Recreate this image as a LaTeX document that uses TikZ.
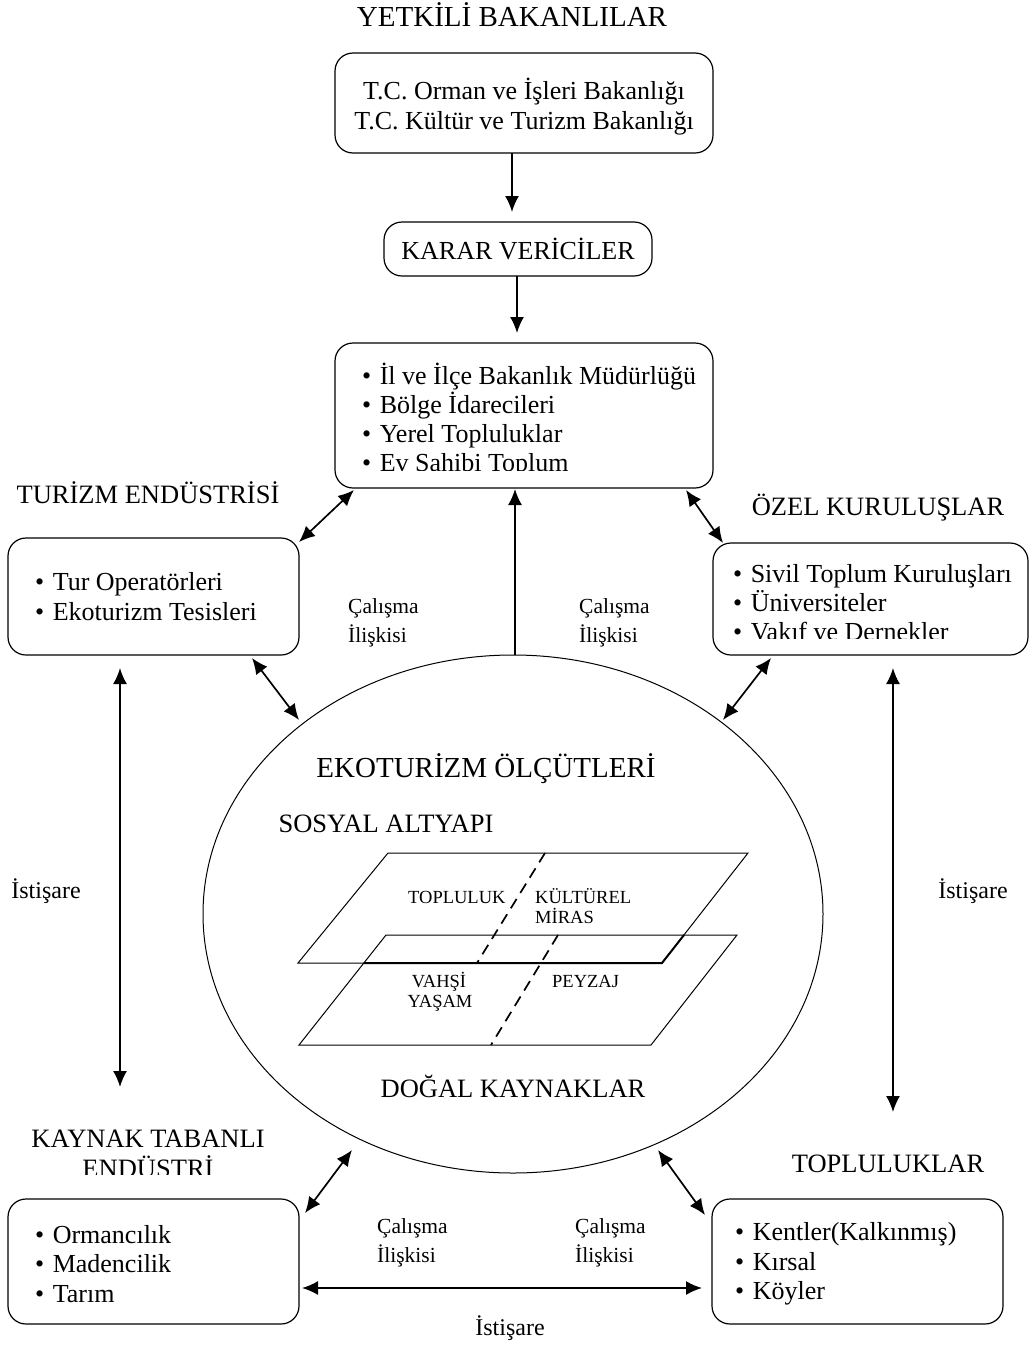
\documentclass[tikz,border=0pt]{standalone}
\usepackage{fontspec}
\setmainfont{Liberation Serif}
\usetikzlibrary{arrows.meta,calc,shapes.geometric}
\newcommand\fsz[1]{\fontsize{#1}{#1}\selectfont}
\newcommand\bline[4]{\node[btxt, anchor=base west] (#1) at (#2,#3) {\textbullet\hspace{8.5pt}#4};}
\begin{document}
\begin{tikzpicture}[x=1pt,y=-1pt,
  box/.style={draw, line width=1.2pt, rounded corners=18pt, inner sep=0pt, outer sep=0pt, anchor=north west},
  tip/.tip={Latex[length=16pt,width=14pt]},
  arr/.style={line width=1.7pt, -tip},
  darr/.style={line width=1.7pt, tip-tip},
  btxt/.style={inner sep=0pt, font=\fsz{26}},
  head/.style={inner sep=0pt, font=\fsz{26.5}, anchor=base},
  big/.style={inner sep=0pt, font=\fsz{29}, anchor=base},
  lab/.style={inner sep=0pt, font=\fsz{21.5}, anchor=base west},
  ist/.style={inner sep=0pt, font=\fsz{24}, anchor=base},
  pl/.style={inner sep=0pt, font=\fsz{18.5}, anchor=base west},
  plane/.style={line width=1pt},
  dsh/.style={line width=1.7pt, dash pattern=on 11pt off 7pt}
]
\useasboundingbox (0,0) rectangle (1030,1347);

% ---------- top chain ----------
\node[big] (tYetkili) at (512,26) {YETKİLİ BAKANLILAR};
\node[box, minimum width=378pt, minimum height=100pt] (b1) at (335,53) {};
\node[btxt, anchor=base] (b1a) at (524,99) {T.C. Orman ve İşleri Bakanlığı};
\node[btxt, anchor=base] (b1b) at (524,129) {T.C. Kültür ve Turizm Bakanlığı};

\node[box, minimum width=268pt, minimum height=54pt] (b2) at (384,222) {};
\node[btxt, anchor=base] (b2a) at (518,259) {KARAR VERİCİLER};

\node[box, minimum width=378pt, minimum height=145pt] (b3) at (335,343) {};
\begin{scope}
\clip (335,343) rectangle (713,470.5);
\bline{b3a}{362}{384}{İl ve İlçe Bakanlık Müdürlüğü}
\bline{b3b}{362}{413}{Bölge İdarecileri}
\bline{b3c}{362}{442}{Yerel Topluluklar}
\bline{b3d}{362}{471}{Ev Sahibi Toplum}
\end{scope}

\coordinate (c1s) at (512,153); \coordinate (c1e) at (512,212);
\draw[arr] (c1s) -- (c1e);
\coordinate (c2s) at (517,276); \coordinate (c2e) at (517,333);
\draw[arr] (c2s) -- (c2e);

% ---------- side boxes ----------
\node[head] (tTur) at (148,503) {TURİZM ENDÜSTRİSİ};
\node[box, minimum width=291pt, minimum height=117pt] (bTur) at (8,538) {};
\bline{bTa}{35}{590}{Tur Operatörleri}
\bline{bTb}{35}{620}{Ekoturizm Tesisleri}

\node[head] (tOzel) at (878,515) {ÖZEL KURULUŞLAR};
\node[box, minimum width=315pt, minimum height=112pt] (bOz) at (713,543) {};
\begin{scope}
\clip (713,543) rectangle (1028,638);
\bline{bOa}{733}{582}{Sivil Toplum Kuruluşları}
\bline{bOb}{733}{611}{Üniversiteler}
\bline{bOc}{733}{640}{Vakıf ve Dernekler}
\end{scope}

\node[head] (tKay1) at (148,1147) {KAYNAK TABANLI};
\begin{scope}
\clip (0,1150) rectangle (300,1174.5);
\node[head] (tKay2) at (148,1177) {ENDÜSTRİ};
\end{scope}
\node[box, minimum width=291pt, minimum height=125pt] (bKay) at (8,1199) {};
\bline{bKa}{35}{1243}{Ormancılık}
\bline{bKb}{35}{1272}{Madencilik}
\bline{bKc}{35}{1302}{Tarım}

\node[head] (tTop) at (888,1172) {TOPLULUKLAR};
\node[box, minimum width=291pt, minimum height=125pt] (bTop) at (712,1199) {};
\bline{bPa}{735}{1240}{Kentler(Kalkınmış)}
\bline{bPb}{735}{1270}{Kırsal}
\bline{bPc}{735}{1299}{Köyler}

% ---------- ellipse ----------
\node[draw, line width=1pt, ellipse, minimum width=620pt, minimum height=518pt, inner sep=0pt] (ell) at (513,914) {};
\node[big] (tEko) at (486,777) {EKOTURİZM ÖLÇÜTLERİ};
\node[head] (tSos) at (386,832) {SOSYAL ALTYAPI};
\node[head] (tDog) at (513,1097) {DOĞAL KAYNAKLAR};

% planes
\draw[plane] (388,853) -- (748,853) -- (662,963) -- (298,963) -- cycle;
\draw[plane] (386,935) -- (737,935) -- (651,1045) -- (299,1045) -- cycle;
\draw[line width=2pt] (364,963) -- (662,963) -- (684,935);
\draw[dsh] (545,853) -- (477,963);
\draw[dsh] (558,935) -- (491,1045);
\node[pl] (pTop) at (408,903) {TOPLULUK};
\node[pl] (pKul) at (535,903) {KÜLTÜREL};
\node[pl] (pMir) at (535,923) {MİRAS};
\node[pl, anchor=base] (pVah) at (439,987) {VAHŞİ};
\node[pl, anchor=base] (pYas) at (440,1007) {YAŞAM};
\node[pl] (pPey) at (552,987) {PEYZAJ};

% ---------- connectors ----------
\coordinate (e1) at (515,655); \coordinate (e1t) at (515,489);
\draw[arr] (e1) -- (e1t);
\coordinate (d1a) at (354,490); \coordinate (d1b) at (299,542);
\draw[darr] (d1a) -- (d1b);
\coordinate (d2a) at (686,490); \coordinate (d2b) at (723,543);
\draw[darr] (d2a) -- (d2b);
\coordinate (d3a) at (252,658); \coordinate (d3b) at (299,720);
\draw[darr] (d3a) -- (d3b);
\coordinate (d4a) at (771,658); \coordinate (d4b) at (723,720);
\draw[darr] (d4a) -- (d4b);
\coordinate (v1a) at (120,668); \coordinate (v1b) at (120,1087);
\draw[darr] (v1a) -- (v1b);
\coordinate (v2a) at (893,668); \coordinate (v2b) at (893,1112);
\draw[darr] (v2a) -- (v2b);
\coordinate (d5a) at (352,1150); \coordinate (d5b) at (305,1213);
\draw[darr] (d5a) -- (d5b);
\coordinate (d6a) at (658,1150); \coordinate (d6b) at (705,1215);
\draw[darr] (d6a) -- (d6b);
\coordinate (h1a) at (302,1288); \coordinate (h1b) at (702,1288);
\draw[darr] (h1a) -- (h1b);

% ---------- labels ----------
\node[lab] (l1a) at (348,613) {Çalışma};
\node[lab] (l1b) at (348,642) {İlişkisi};
\node[lab] (l2a) at (579,613) {Çalışma};
\node[lab] (l2b) at (579,642) {İlişkisi};
\node[lab] (l3a) at (377,1233) {Çalışma};
\node[lab] (l3b) at (377,1262) {İlişkisi};
\node[lab] (l4a) at (575,1233) {Çalışma};
\node[lab] (l4b) at (575,1262) {İlişkisi};
\node[ist] (i1) at (46,898) {İstişare};
\node[ist] (i2) at (973,898) {İstişare};
\node[ist] (i3) at (510,1335) {İstişare};
\end{tikzpicture}
\end{document}
